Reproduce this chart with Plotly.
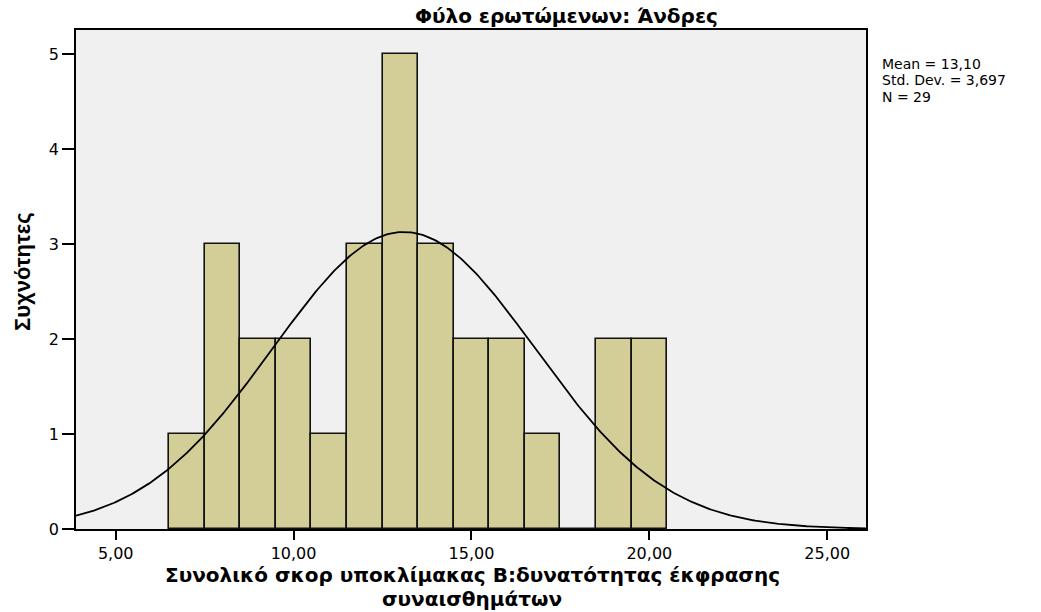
import numpy as np
import plotly.graph_objects as go

# Data
bin_centers = [7, 8, 9, 10, 11, 12, 13, 14, 15, 16, 17, 18, 19, 20]
counts = [1, 3, 2, 2, 1, 3, 5, 3, 2, 2, 1, 0, 2, 2]
MEAN = 13.10
SD = 3.697
N = 29
BIN_WIDTH = 1.0
x_ticks = [5, 10, 15, 20, 25]
y_ticks = [0, 1, 2, 3, 4, 5]

title_text = "Φύλο ερωτώμενων: Άνδρες"
x_title_1 = "Συνολικό σκορ υποκλίμακας Β:δυνατότητας έκφρασης"
x_title_2 = "συναισθημάτων"
y_title = "Συχνότητες"
stats_lines = ["Mean = 13,10", "Std. Dev. = 3,697", "N = 29"]

X_RANGE = [3.884, 26.09]
Y_RANGE = [0, 5.257]

# Normal curve defined by the shown statistics
xc = np.linspace(X_RANGE[0], X_RANGE[1], 400)
yc = N * BIN_WIDTH * np.exp(-0.5 * ((xc - MEAN) / SD) ** 2) / (SD * np.sqrt(2 * np.pi))

fig = go.Figure()
fig.add_trace(go.Bar(
    x=bin_centers, y=counts, width=BIN_WIDTH,
    marker=dict(color="#d3ce97", line=dict(color="#111111", width=1.6)),
    showlegend=False, hoverinfo="x+y"))
fig.add_trace(go.Scatter(
    x=xc, y=yc, mode="lines", line=dict(color="#000000", width=1.8),
    showlegend=False, hoverinfo="skip"))

L, R, T, B = 76, 866, 29.5, 529.5
W, H = 1041, 612
pw, ph = R - L, B - T

def px(xp):
    return (xp - L) / pw

def py(yp):
    return 1 - (yp - T) / ph

fig.update_layout(
    width=W, height=H,
    margin=dict(l=L, r=W - R, t=T, b=H - B, pad=0),
    paper_bgcolor="white", plot_bgcolor="#f0f0f0",
    separators=",.",
    bargap=0,
    font=dict(family="DejaVu Sans, Liberation Sans, Arial", color="#000000"),
)
fig.update_xaxes(
    range=X_RANGE, tickvals=x_ticks, tickformat=".2f",
    showgrid=False, zeroline=False,
    showline=True, linecolor="#000000", linewidth=1.5, mirror=True,
    ticks="outside", ticklen=9, tickwidth=1.5, tickcolor="#000000",
    tickfont=dict(size=16, family="DejaVu Sans"),
)
fig.update_yaxes(
    range=Y_RANGE, tickvals=y_ticks,
    showgrid=False, zeroline=False,
    showline=True, linecolor="#000000", linewidth=1.5, mirror=True,
    ticks="outside", ticklen=12, tickwidth=1.5, tickcolor="#000000",
    tickfont=dict(size=16, family="DejaVu Sans"),
)

ann = []
ann.append(dict(text="<b>" + title_text + "</b>", x=px(566), y=py(15),
                xref="paper", yref="paper", showarrow=False,
                xanchor="center", yanchor="middle",
                font=dict(size=20, family="DejaVu Sans")))
ann.append(dict(text="<b>" + x_title_1 + "</b>", x=px(472), y=py(576),
                xref="paper", yref="paper", showarrow=False,
                xanchor="center", yanchor="middle",
                font=dict(size=20, family="DejaVu Sans")))
ann.append(dict(text="<b>" + x_title_2 + "</b>", x=px(472), y=py(600),
                xref="paper", yref="paper", showarrow=False,
                xanchor="center", yanchor="middle",
                font=dict(size=20, family="DejaVu Sans")))
ann.append(dict(text="<b>" + y_title + "</b>", x=px(22), y=py(272),
                xref="paper", yref="paper", showarrow=False, textangle=-90,
                xanchor="center", yanchor="middle",
                font=dict(size=22, family="Liberation Sans, Arial")))
for i, s in enumerate(stats_lines):
    ann.append(dict(text=s, x=px(880), y=py(63.5 + 16.5 * i),
                    xref="paper", yref="paper", showarrow=False,
                    xanchor="left", yanchor="middle",
                    font=dict(size=14, family="DejaVu Sans")))
fig.update_layout(annotations=ann)

fig.write_html("out.html", config={"displayModeBar": False},
               post_script="document.body.style.margin='0';")
